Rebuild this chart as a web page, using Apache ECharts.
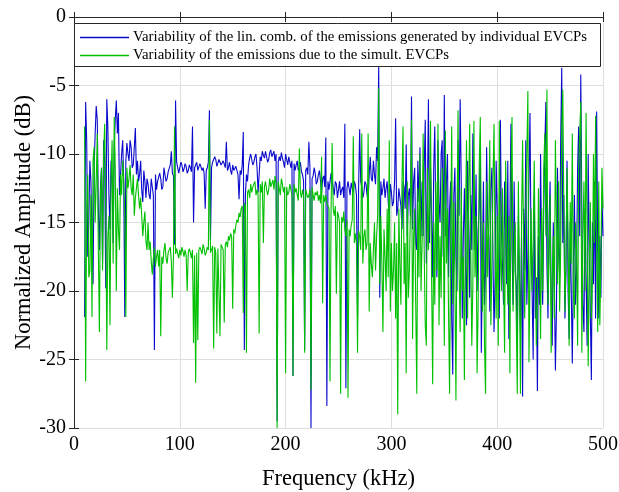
<!DOCTYPE html>
<html>
<head>
<meta charset="utf-8">
<script src="https://cdn.jsdelivr.net/npm/echarts@6/dist/echarts.min.js"></script>
<style>
html,body{margin:0;padding:0;background:#fff;}
#chart{width:619px;height:492px;}
</style>
</head>
<body>
<div id="chart"></div>
<script>
// Frequency sample grid (kHz): 10, 11, ..., 500
const freqStart = 10;
const freqStep = 1;

// Variability of the lin. comb. of the emissions generated by individual EVCPs (dB)
const blueValues = [
  -21.9, -6.2, -9.0, -17.5, -15.0, -10.5, -12.0, -16.0, -19.5, -11.0,
  -8.5, -6.5, -7.5, -14.0, -17.0, -12.5, -11.0, -18.0, -9.0, -10.5,
  -19.8, -6.0, -8.0, -13.0, -15.5, -10.5, -12.0, -16.5, -9.5, -7.5,
  -6.1, -8.5, -7.0, -13.0, -11.5, -10.0, -9.0, -12.0, -21.9, -10.5,
  -9.2, -10.0, -10.5, -9.0, -9.5, -11.0, -10.8, -9.5, -8.1, -11.5,
  -10.5, -12.0, -11.5, -10.5, -12.6, -13.5, -11.2, -12.0, -13.2, -11.8,
  -12.2, -13.0, -13.3, -11.8, -12.4, -13.0, -24.3, -11.5, -12.6, -12.0,
  -12.0, -11.4, -11.8, -12.6, -12.4, -11.0, -11.5, -12.0, -11.8, -11.3,
  -11.2, -10.8, -9.8, -11.4, -11.6, -16.6, -6.1, -10.6, -11.0, -11.4,
  -11.0, -10.6, -10.8, -11.3, -11.1, -10.7, -10.9, -11.4, -11.2, -10.8,
  -11.0, -11.3, -8.0, -15.0, -11.0, -10.8, -10.6, -11.2, -11.2, -10.7,
  -10.7, -11.2, -11.0, -11.4, -14.0, -11.2, -11.0, -10.6, -6.8, -16.3,
  -11.0, -10.6, -10.6, -10.2, -10.4, -10.9, -10.8, -10.4, -10.5, -10.8,
  -10.9, -10.5, -10.6, -11.0, -9.1, -11.2, -11.0, -10.6, -11.2, -11.5,
  -10.8, -11.2, -11.3, -10.9, -11.0, -11.5, -13.3, -11.2, -11.5, -10.8,
  -8.4, -24.3, -13.0, -11.5, -12.0, -10.8, -10.3, -10.0, -10.4, -10.8,
  -10.6, -10.2, -10.0, -11.0, -12.8, -11.5, -10.2, -10.5, -9.8, -10.1,
  -10.3, -9.8, -9.9, -10.6, -10.4, -9.9, -9.7, -10.2, -10.1, -9.8,
  -10.5, -10.0, -29.5, -10.6, -10.2, -10.5, -9.9, -10.3, -10.6, -11.0,
  -10.0, -10.4, -10.8, -10.2, -10.3, -11.0, -10.5, -26.2, -10.7, -11.2,
  -10.8, -10.5, -11.2, -11.0, -10.6, -11.3, -11.5, -12.0, -24.3, -11.2,
  -11.0, -11.5, -9.1, -11.0, -30.0, -11.8, -11.6, -11.0, -11.4, -12.2,
  -12.0, -11.5, -11.2, -12.0, -12.8, -11.8, -11.6, -12.4, -8.8, -28.4,
  -12.0, -12.6, -12.0, -11.4, -11.5, -12.5, -13.0, -12.0, -12.2, -13.2,
  -12.6, -12.0, -13.0, -12.6, -12.4, -13.2, -7.8, -27.1, -12.5, -12.0,
  -12.5, -13.0, -12.1, -12.5, -12.8, -12.0, -12.3, -13.0, -21.9, -12.5,
  -8.2, -12.0, -12.4, -13.2, -12.8, -12.0, -12.2, -13.0, -13.5, -11.5,
  -10.2, -11.8, -12.0, -10.5, -11.5, -12.2, -9.5, -10.5, -3.5, -20.5,
  -12.0, -13.0, -12.5, -11.8, -13.2, -12.5, -12.0, -13.5, -14.5, -12.2,
  -12.8, -13.8, -13.5, -12.0, -7.4, -14.5, -14.0, -12.5, -12.6, -13.8,
  -15.5, -12.0, -12.4, -14.0, -9.3, -16.0, -13.0, -12.5, -14.5, -5.8,
  -15.5, -12.0, -11.0, -16.5, -17.0, -10.5, -13.5, -9.5, -16.0, -12.0,
  -16.0, -11.0, -7.5, -18.0, -13.0, -6.0, -16.5, -11.0, -14.5, -19.0,
  -11.0, -8.0, -15.0, -19.0, -9.0, -13.5, -15.0, -10.0, -9.0, -17.5,
  -5.7, -16.0, -12.0, -10.0, -19.0, -14.0, -12.0, -22.0, -26.1, -13.0,
  -11.0, -17.5, -20.0, -9.0, -14.5, -6.0, -12.0, -22.0, -16.0, -12.5,
  -18.0, -22.5, -10.5, -15.0, -20.5, -13.0, -17.0, -8.5, -14.0, -17.0,
  -11.5, -20.0, -15.5, -14.0, -9.5, -24.5, -18.0, -12.0, -21.0, -18.5,
  -9.5, -15.0, -16.0, -21.5, -12.5, -11.0, -17.5, -23.0, -19.0, -10.5,
  -14.0, -19.0, -22.0, -7.5, -15.5, -18.0, -21.0, -12.0, -16.0, -19.5,
  -10.5, -23.5, -14.5, -7.8, -17.0, -21.0, -12.0, -18.5, -19.5, -24.0,
  -14.5, -19.0, -23.0, -16.0, -27.7, -14.0, -18.5, -9.0, -21.0, -17.5,
  -12.0, -7.0, -17.0, -20.0, -25.0, -13.0, -22.0, -19.0, -27.3, -16.0,
  -21.0, -10.0, -18.0, -21.0, -14.0, -9.5, -6.2, -18.0, -22.0, -15.0,
  -12.0, -20.5, -24.0, -15.0, -19.0, -25.8, -21.5, -11.0, -17.0, -19.0,
  -9.0, -3.7, -16.5, -13.0, -22.0, -18.5, -10.5, -20.0, -23.5, -15.0,
  -20.0, -25.3, -18.0, -13.0, -21.0, -18.5, -11.0, -8.0, -16.0, -4.2,
  -14.0, -21.0, -23.0, -14.0, -19.0, -24.0, -10.0, -17.0, -21.5, -26.5,
  -15.0, -19.5, -12.0, -22.0, -6.9, -17.0, -22.0, -16.0, -20.5, -13.0,
  -16.0
];

// Variability of the emissions due to the simult. EVCPs (dB)
const greenValues = [
  -8.0, -26.6, -14.0, -11.5, -19.0, -18.5, -13.0, -21.9, -10.5, -9.5,
  -15.0, -12.0, -8.5, -17.0, -23.0, -13.0, -11.0, -18.5, -10.0, -7.8,
  -14.0, -24.3, -16.0, -14.5, -22.5, -12.0, -9.0, -18.0, -7.3, -11.0,
  -20.0, -12.5, -15.5, -17.0, -11.5, -13.0, -10.5, -12.0, -14.5, -21.9,
  -11.0, -12.5, -11.8, -10.8, -12.5, -13.0, -11.5, -14.5, -13.2, -12.5,
  -11.8, -13.0, -14.0, -13.2, -14.5, -16.0, -15.0, -14.2, -16.4, -17.0,
  -15.0, -17.0, -16.4, -17.8, -18.8, -17.6, -16.8, -18.2, -17.5, -17.0,
  -18.2, -17.0, -23.3, -17.5, -18.0, -17.0, -16.5, -17.6, -18.0, -17.2,
  -17.2, -16.8, -17.8, -20.5, -17.5, -8.0, -17.3, -16.9, -17.0, -17.6,
  -17.0, -17.4, -16.8, -17.1, -17.5, -17.0, -17.4, -20.0, -17.2, -16.9,
  -17.2, -17.6, -17.0, -23.8, -17.4, -26.7, -17.2, -23.6, -17.0, -16.8,
  -17.0, -17.3, -16.6, -16.9, -17.4, -17.2, -16.8, -17.0, -7.5, -17.2,
  -17.0, -16.7, -24.2, -16.8, -17.2, -23.1, -16.9, -17.0, -23.3, -16.6,
  -16.7, -17.0, -22.3, -16.6, -16.4, -16.8, -16.0, -16.3, -15.8, -16.0,
  -21.3, -15.5, -15.8, -15.2, -14.8, -15.0, -14.3, -14.6, -14.0, -13.8,
  -21.6, -13.6, -13.8, -24.5, -12.8, -12.6, -13.2, -12.2, -12.8, -12.4,
  -12.4, -12.0, -13.0, -12.6, -13.0, -23.1, -12.2, -12.8, -12.0, -16.5,
  -12.4, -12.0, -12.6, -13.0, -12.6, -11.8, -12.4, -12.3, -11.9, -12.6,
  -11.6, -12.2, -30.0, -12.0, -12.5, -13.0, -11.8, -12.2, -12.8, -12.4,
  -26.0, -12.4, -13.0, -12.8, -12.2, -12.6, -13.0, -26.2, -12.2, -12.8,
  -12.5, -13.0, -13.4, -9.6, -12.8, -13.2, -12.6, -13.0, -24.5, -12.6,
  -12.6, -13.2, -13.0, -12.6, -27.2, -12.4, -13.0, -13.4, -12.8, -13.0,
  -12.7, -13.4, -13.0, -13.6, -10.2, -20.9, -13.0, -13.5, -13.0, -13.6,
  -13.6, -14.0, -26.6, -13.8, -9.2, -14.0, -14.5, -13.8, -20.2, -14.2,
  -14.5, -15.0, -27.5, -14.6, -15.0, -14.2, -15.5, -16.0, -14.8, -27.8,
  -15.5, -16.0, -15.2, -14.8, -8.7, -16.5, -15.8, -16.5, -24.5, -15.6,
  -16.0, -17.0, -8.5, -18.0, -16.0, -15.5, -17.0, -16.5, -8.5, -21.5,
  -16.5, -18.0, -19.0, -17.0, -15.0, -18.5, -16.0, -14.5, -5.2, -19.5,
  -14.5, -18.0, -23.0, -15.5, -17.5, -20.0, -14.0, -19.0, -9.0, -21.5,
  -16.5, -20.0, -18.5, -15.0, -22.0, -16.5, -29.0, -14.0, -18.0, -21.0,
  -12.0, -8.0, -19.5, -16.5, -26.0, -12.0, -20.5, -18.5, -14.0, -7.5,
  -23.5, -16.0, -14.0, -21.0, -27.5, -12.5, -19.0, -10.0, -20.0, -16.5,
  -8.5, -17.0, -22.5, -24.0, -11.0, -17.0, -13.5, -7.6, -19.0, -26.8,
  -15.0, -21.0, -12.0, -18.5, -7.8, -22.5, -16.0, -20.5, -11.0, -14.5,
  -24.0, -8.3, -18.0, -14.0, -21.5, -27.5, -16.0, -8.0, -21.0, -13.5,
  -19.0, -28.0, -15.0, -6.8, -18.5, -23.0, -12.5, -20.0, -17.5, -26.5,
  -15.0, -9.0, -22.0, -13.0, -7.8, -17.0, -24.0, -19.5, -7.6, -19.0,
  -14.5, -26.0, -21.0, -11.0, -7.3, -16.5, -21.5, -15.0, -24.0, -27.5,
  -12.0, -19.0, -15.0, -9.0, -22.5, -18.0, -12.0, -7.8, -17.0, -22.0,
  -14.5, -24.0, -7.6, -17.5, -20.0, -12.5, -19.0, -24.5, -10.5, -16.0,
  -21.0, -14.5, -26.0, -12.0, -7.3, -21.5, -17.0, -15.0, -22.0, -27.5,
  -12.0, -19.0, -27.5, -15.0, -9.0, -17.5, -22.0, -14.0, -10.0, -5.4,
  -25.2, -19.0, -14.0, -20.0, -16.5, -10.5, -18.0, -24.0, -21.0, -12.5,
  -17.0, -23.5, -14.0, -20.0, -11.0, -8.5, -16.0, -5.3, -21.0, -18.0,
  -13.0, -24.5, -19.0, -16.0, -22.0, -9.0, -14.5, -19.5, -12.0, -21.5,
  -17.0, -8.0, -5.3, -14.0, -21.5, -18.0, -11.0, -16.0, -24.0, -13.5,
  -18.0, -8.5, -20.0, -22.0, -15.0, -17.0, -24.0, -11.0, -8.5, -6.2,
  -24.5, -16.0, -12.0, -20.0, -7.0, -15.5, -25.5, -18.0, -13.5, -22.0,
  -19.0, -10.0, -16.5, -7.2, -17.0, -23.0, -12.0, -22.5, -18.0, -11.0,
  -14.0
];

const seriesNames = [
  'Variability of the lin. comb. of the emissions generated by individual EVCPs',
  'Variability of the emissions due to the simult. EVCPs'
];
const xTicks = [0, 100, 200, 300, 400, 500];
const yTicks = [-30, -25, -20, -15, -10, -5, 0];

const freq = blueValues.map((_, i) => freqStart + freqStep * i);
const blueData = freq.map((f, i) => [f, blueValues[i]]);
const greenData = freq.map((f, i) => [f, greenValues[i]]);

const FONT = "'Liberation Serif', 'Times New Roman', serif";
const axisColor = '#262626';
const gridColor = '#dedede';

const chart = echarts.init(document.getElementById('chart'), null, {renderer: 'canvas'});
const grid = {left: 74, right: 16, top: 17, bottom: 64, containLabel: false, outerBoundsMode: 'none'};

chart.setOption({
  animation: false,
  backgroundColor: '#ffffff',
  grid: grid,
  xAxis: [{
    type: 'value', min: xTicks[0], max: xTicks[xTicks.length - 1], interval: 100,
    position: 'bottom',
    name: 'Frequency (kHz)', nameLocation: 'middle', nameGap: 40, nameMoveOverlap: false,
    nameTextStyle: {fontFamily: FONT, fontSize: 22.5, color: '#000'},
    axisLine: {show: true, lineStyle: {color: axisColor, width: 1}},
    axisTick: {show: true, inside: true, length: 5, lineStyle: {color: axisColor}},
    axisLabel: {fontFamily: FONT, fontSize: 20, color: '#000', margin: 7},
    splitLine: {show: true, lineStyle: {color: gridColor, width: 1}}
  }, {
    type: 'value', min: 0, max: 500, interval: 100, position: 'top',
    axisLine: {show: true, lineStyle: {color: axisColor, width: 1}},
    axisTick: {show: true, inside: true, length: 5, lineStyle: {color: axisColor}},
    axisLabel: {show: false}, splitLine: {show: false}
  }],
  yAxis: [{
    type: 'value', min: yTicks[0], max: yTicks[yTicks.length - 1], interval: 5,
    position: 'left',
    name: 'Normalized Amplitude (dB)', nameLocation: 'middle', nameGap: 38, nameMoveOverlap: false,
    nameTextStyle: {fontFamily: FONT, fontSize: 22.5, color: '#000'},
    axisLine: {show: true, lineStyle: {color: axisColor, width: 1}},
    axisTick: {show: true, inside: true, length: 5, lineStyle: {color: axisColor}},
    axisLabel: {fontFamily: FONT, fontSize: 20, color: '#000', margin: 8},
    splitLine: {show: true, lineStyle: {color: gridColor, width: 1}}
  }, {
    type: 'value', min: -30, max: 0, interval: 5, position: 'right',
    axisLine: {show: true, lineStyle: {color: axisColor, width: 1}},
    axisTick: {show: true, inside: true, length: 5, lineStyle: {color: axisColor}},
    axisLabel: {show: false}, splitLine: {show: false}
  }],
  legend: {
    show: true,
    orient: 'vertical',
    left: 80, top: 29,
    padding: 0,
    itemGap: 1,
    itemWidth: 49,
    itemHeight: 1.5,
    icon: 'rect',
    z: 60,
    textStyle: {fontFamily: FONT, fontSize: 14.8, color: '#000', lineHeight: 17, padding: [0, 0, 0, -1]},
    data: seriesNames
  },
  graphic: [{
    type: 'rect', z: 50, silent: true,
    shape: {x: 74.5, y: 23.5, width: 526, height: 43},
    style: {fill: '#ffffff', stroke: '#262626', lineWidth: 1}
  }],
  series: [{
    name: seriesNames[0], type: 'line', data: blueData,
    xAxisIndex: 0, yAxisIndex: 0,
    showSymbol: false, symbol: 'none',
    lineStyle: {color: '#0a0acc', width: 1.1},
    itemStyle: {color: '#0a0acc'},
    z: 2
  }, {
    name: seriesNames[1], type: 'line', data: greenData,
    xAxisIndex: 0, yAxisIndex: 0,
    showSymbol: false, symbol: 'none',
    lineStyle: {color: '#00c000', width: 1.1},
    itemStyle: {color: '#00c000'},
    z: 3
  }]
});
</script>
</body>
</html>
